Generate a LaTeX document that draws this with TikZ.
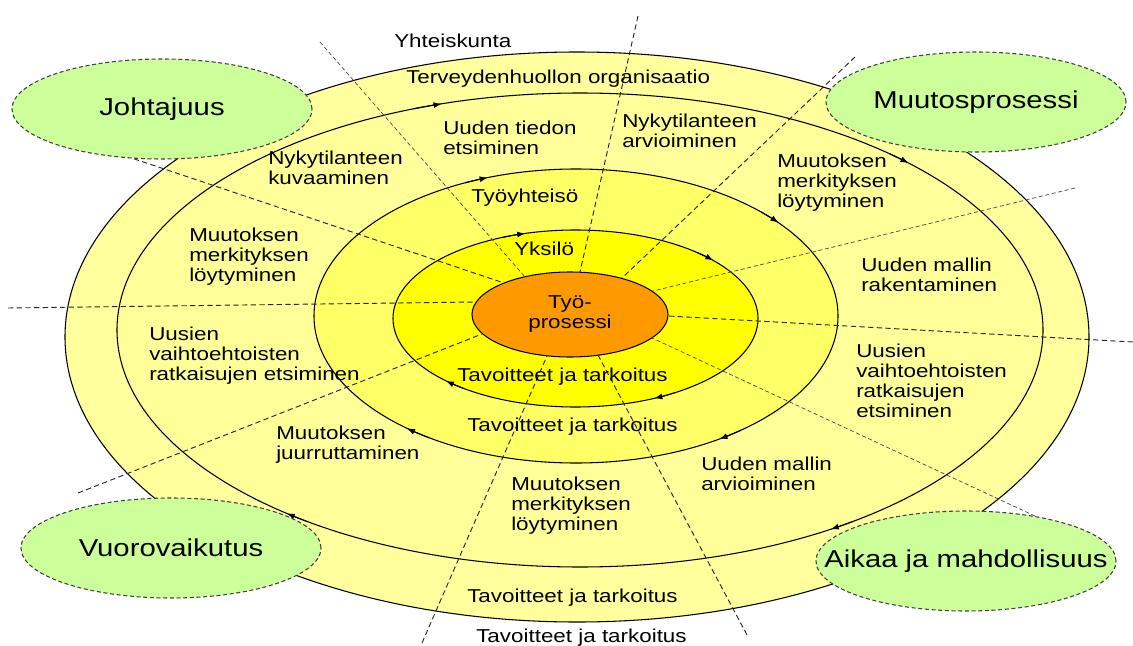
\documentclass[tikz,border=0pt]{standalone}
\usepackage{fontspec}
\setmainfont{Liberation Sans}[FakeStretch=1.2]
\usetikzlibrary{arrows.meta,shapes.geometric}
\definecolor{bandA}{HTML}{FFFF9E}
\definecolor{bandB}{HTML}{FFFF99}
\definecolor{bandC}{HTML}{FFFF66}
\definecolor{bandD}{HTML}{FFFF00}
\definecolor{coreC}{HTML}{FF9900}
\definecolor{greenC}{HTML}{CCFF99}
\begin{document}
\begin{tikzpicture}[x=0.75pt, y=-0.75pt,
  font=\fontsize{14}{15}\selectfont,
  ring/.style={draw=black, line width=0.8pt},
  radial/.style={draw=black!85, line width=0.7pt, dash pattern=on 4pt off 2.5pt},
  fineradial/.style={draw=black!70, line width=0.55pt, dash pattern=on 3pt off 2pt},
  flow/.style={draw=black, line width=0.8pt, -{Latex[length=6pt,width=4.5pt]}},
  lab/.style={anchor=west, align=left, inner sep=0pt},
  factor/.style={ellipse, draw=black!75, dash pattern=on 3pt off 2pt, line width=0.8pt,
    fill=greenC, minimum width=225pt, minimum height=75pt, inner sep=0pt},
  factortext/.style={inner sep=0pt, font=\fontsize{18.3}{20}\selectfont},
  corebox/.style={ellipse, draw=black, line width=0.8pt, fill=coreC, align=center,
    minimum width=147pt, minimum height=63.75pt, inner sep=0pt}
]
\useasboundingbox (0,0) rectangle (1133,646);

% ring centres
\coordinate (c1) at (577,337);
\coordinate (c2) at (580,330);
\coordinate (c3) at (576,316);
\coordinate (c4) at (575.5,318.5);

% rings
\draw[ring, fill=bandA] (c1) ellipse[x radius=512, y radius=285];
\draw[ring, fill=bandB] (c2) ellipse[x radius=463, y radius=237];
\draw[ring, fill=bandC] (c3) ellipse[x radius=262, y radius=147];
\draw[ring, fill=bandD] (c4) ellipse[x radius=182.5, y radius=88.5];
\node[corebox] (core) at (570,314.5) {Työ-\\prosessi};

% radial dashed lines
\coordinate (o1) at (320,42);   \coordinate (i1) at (525,277);
\coordinate (o2) at (638,16);   \coordinate (i2) at (580,272);
\coordinate (o3) at (855,57);   \coordinate (i3) at (622,278);
\coordinate (o4) at (1075,188); \coordinate (i4) at (653,291);
\coordinate (o5) at (1133,342); \coordinate (i5) at (668,316);
\coordinate (o6) at (1035,516); \coordinate (i6) at (652,338);
\coordinate (o7) at (747,635);  \coordinate (i7) at (598,355);
\coordinate (o8) at (422,643);  \coordinate (i8) at (547,356);
\coordinate (o9) at (78,493);   \coordinate (i9) at (482,334);
\coordinate (o10) at (8,308);   \coordinate (i10) at (476,302);
\coordinate (o11) at (60,134);  \coordinate (i11) at (501,282);
\draw[fineradial] (o1) -- (i1);
\draw[radial] (o2) -- (i2);
\draw[radial] (o3) -- (i3);
\draw[fineradial] (o4) -- (i4);
\draw[radial] (o5) -- (i5);
\draw[fineradial] (o6) -- (i6);
\draw[radial] (o7) -- (i7);
\draw[radial] (o8) -- (i8);
\draw[radial] (o9) -- (i9);
\draw[radial] (o10) -- (i10);
\draw[radial] (o11) -- (i11);

% flow arrows on the rings (clockwise)
\draw[flow] ([shift={(-111:463 and 237)}]c2) arc[start angle=-111, end angle=-107.4, x radius=463, y radius=237];
\draw[flow] ([shift={(-48:463 and 237)}]c2) arc[start angle=-48, end angle=-44.8, x radius=463, y radius=237];
\draw[flow] ([shift={(54:463 and 237)}]c2) arc[start angle=54, end angle=57.2, x radius=463, y radius=237];
\draw[flow] ([shift={(126:463 and 237)}]c2) arc[start angle=126, end angle=129.3, x radius=463, y radius=237];

\draw[flow] ([shift={(-115:262 and 147)}]c3) arc[start angle=-115, end angle=-109.7, x radius=262, y radius=147];
\draw[flow] ([shift={(-45:262 and 147)}]c3) arc[start angle=-45, end angle=-39.4, x radius=262, y radius=147];
\draw[flow] ([shift={(51:262 and 147)}]c3) arc[start angle=51, end angle=56.8, x radius=262, y radius=147];
\draw[flow] ([shift={(124:262 and 147)}]c3) arc[start angle=124, end angle=130.2, x radius=262, y radius=147];

\draw[flow] ([shift={(-114:182.5 and 88.5)}]c4) arc[start angle=-114, end angle=-106, x radius=182.5, y radius=88.5];
\draw[flow] ([shift={(-48:182.5 and 88.5)}]c4) arc[start angle=-48, end angle=-41, x radius=182.5, y radius=88.5];
\draw[flow] ([shift={(57:182.5 and 88.5)}]c4) arc[start angle=57, end angle=64.4, x radius=182.5, y radius=88.5];
\draw[flow] ([shift={(128:182.5 and 88.5)}]c4) arc[start angle=128, end angle=135.2, x radius=182.5, y radius=88.5];

% green factor ellipses
\node[factor] (johto) at (162,109) {};
\node[factor] (muutos) at (976,102) {};
\node[factor] (vuoro) at (171,548) {};
\node[factor] (aikaa) at (966,561) {};
\node[factortext] (tjohto) at (johto.center) {Johtajuus};
\node[factortext] (tmuutos) at (muutos.center) {Muutosprosessi};
\node[factortext] (tvuoro) at (vuoro.center) {Vuorovaikutus};
\node[factortext] (taikaa) at (aikaa.center) {Aikaa ja mahdollisuus};

% labels
\node[lab] (l1) at (394,41) {Yhteiskunta};
\node[lab] (l2) at (406,79) {Terveydenhuollon organisaatio};
\node[lab] (l3) at (443,138) {Uuden tiedon\\etsiminen};
\node[lab] (l4) at (622,131) {Nykytilanteen\\arvioiminen};
\node[lab] (l5) at (268,168) {Nykytilanteen\\kuvaaminen};
\node[lab] (l6) at (777,183) {Muutoksen\\merkityksen\\löytyminen};
\node[lab] (l7) at (471,198) {Työyhteisö};
\node[lab] (l8) at (189,257) {Muutoksen\\merkityksen\\löytyminen};
\node[lab] (l9) at (514,249) {Yksilö};
\node[lab] (l10) at (861,275) {Uuden mallin\\rakentaminen};
\node[lab] (l11) at (149,356) {Uusien\\vaihtoehtoisten\\ratkaisujen etsiminen};
\node[lab] (l12) at (856,381) {Uusien\\vaihtoehtoisten\\ratkaisujen\\etsiminen};
\node[lab] (l13) at (457,377) {Tavoitteet ja tarkoitus};
\node[lab] (l14) at (467,427) {Tavoitteet ja tarkoitus};
\node[lab] (l15) at (276,445) {Muutoksen\\juurruttaminen};
\node[lab] (l16) at (701,474) {Uuden mallin\\arvioiminen};
\node[lab] (l17) at (511,506) {Muutoksen\\merkityksen\\löytyminen};
\node[lab] (l18) at (467,598) {Tavoitteet ja tarkoitus};
\node[lab] (l19) at (476,638) {Tavoitteet ja tarkoitus};
\end{tikzpicture}
\end{document}
